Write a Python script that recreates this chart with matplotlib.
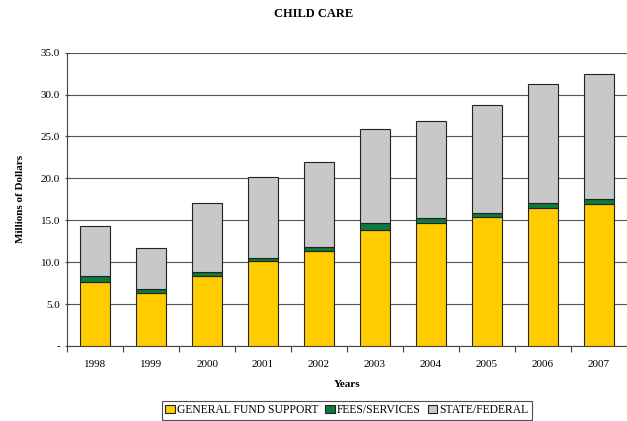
import numpy as np
import matplotlib
matplotlib.use("Agg")
import matplotlib.pyplot as plt
from matplotlib.ticker import FixedLocator

plt.rcParams['font.family'] = ['Liberation Serif', 'DejaVu Serif']

years = ['1998', '1999', '2000', '2001', '2002', '2003', '2004', '2005', '2006', '2007']
general_fund = [7.7, 6.3, 8.4, 10.1, 11.3, 13.9, 14.7, 15.4, 16.5, 17.0]
fees_services = [0.6, 0.5, 0.45, 0.45, 0.5, 0.8, 0.55, 0.5, 0.6, 0.6]
state_federal = [6.0, 4.9, 8.25, 9.6, 10.1, 11.15, 11.6, 12.8, 14.15, 14.85]

x = np.arange(len(years))
bottom2 = np.array(general_fund) + np.array(fees_services)

fig = plt.figure(figsize=(6.27, 4.21), dpi=100)
ax = fig.add_axes([0.107, 0.178, 0.893, 0.697])

edge = '#222222'
ax.bar(x, general_fund, width=0.55, color='#FFCC00', edgecolor=edge, linewidth=0.8,
       label='GENERAL FUND SUPPORT', zorder=3)
ax.bar(x, fees_services, width=0.55, bottom=general_fund, color='#0E7A3C',
       edgecolor=edge, linewidth=0.8, label='FEES/SERVICES', zorder=3)
ax.bar(x, state_federal, width=0.55, bottom=bottom2, color='#C8C8CA',
       edgecolor=edge, linewidth=0.8, label='STATE/FEDERAL', zorder=3)

ax.set_xlim(-0.5, len(years) - 0.5)
ax.set_ylim(0, 35)
ax.set_yticks(np.arange(0, 35.1, 5))
ax.set_yticklabels(['-'] + ['%.1f' % v for v in np.arange(5, 35.1, 5)], fontsize=8)
ax.set_xticks(x)
ax.set_xticklabels(years, fontsize=8)
ax.xaxis.set_minor_locator(FixedLocator(np.arange(-0.5, len(years), 1)))
ax.tick_params(axis='x', which='major', length=0, pad=10)
ax.tick_params(axis='x', which='minor', length=4, width=0.8, color='#444444')
ax.tick_params(axis='y', length=3, width=0.8, color='#444444', direction='inout')

ax.grid(axis='y', color='#555555', linewidth=0.8, zorder=0)
ax.spines['top'].set_visible(False)
ax.spines['right'].set_visible(False)
ax.spines['left'].set_color('#444444')
ax.spines['bottom'].set_color('#444444')

ax.set_ylabel('Millions of Dollars', fontsize=8, fontweight='bold', labelpad=11)
ax.set_xlabel('Years', fontsize=8, fontweight='bold', labelpad=8)
fig.suptitle('CHILD CARE', fontsize=9, fontweight='bold', y=0.982)

leg = ax.legend(loc='center', bbox_to_anchor=(0.5, -0.218), ncol=3, fontsize=8.4,
                frameon=True, fancybox=False, edgecolor='#222222',
                handlelength=0.8, handleheight=0.8, handletextpad=0.2,
                columnspacing=0.6, borderpad=0.3, borderaxespad=0)
leg.get_frame().set_linewidth(0.8)

fig.savefig('out.png', dpi=100)
